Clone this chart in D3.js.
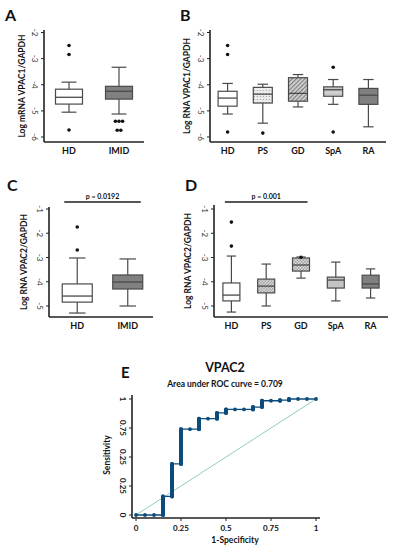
<!DOCTYPE html>
<html>
<head>
<meta charset="utf-8">
<script src="https://cdn.jsdelivr.net/npm/d3@7"></script>
<style>
  body { margin: 0; background: #fff; }
  svg text { font-family: Lato, "Open Sans", sans-serif; fill: #111; }
</style>
</head>
<body>
<div id="fig"></div>
<script>
// ---- data ----
var groups2 = ["HD", "IMID"];
var groups5 = ["HD", "PS", "GD", "SpA", "RA"];

// panel A: log mRNA VPAC1/GAPDH
var aLow = [-5.05, -5.12], aQ1 = [-4.74, -4.55], aMed = [-4.48, -4.25], aQ3 = [-4.17, -4.06], aHigh = [-3.90, -3.33];
var aOut = [[-2.50, -2.84, -5.73], [-5.40, -5.40, -5.40, -5.74, -5.74]];
// panel B: log RNA VPAC1/GAPDH
var bLow = [-5.12, -5.47, -4.85, -4.75, -5.61], bQ1 = [-4.82, -4.70, -4.63, -4.44, -4.75], bMed = [-4.51, -4.36, -4.33, -4.19, -4.40];
var bQ3 = [-4.25, -4.10, -3.73, -4.08, -4.14], bHigh = [-3.95, -3.98, -3.61, -3.80, -3.80];
var bOut = [[-2.50, -2.84, -5.81], [-5.85], [], [-3.33, -5.81], []];
// panel C: log RNA VPAC2/GAPDH
var cLow = [-5.29, -5.00], cQ1 = [-4.84, -4.30], cMed = [-4.59, -4.01], cQ3 = [-4.09, -3.72], cHigh = [-3.02, -3.06];
var cOut = [[-1.74, -2.69], []];
// panel D
var dLow = [-5.25, -5.00, -3.85, -4.79, -4.67], dQ1 = [-4.79, -4.46, -3.56, -4.26, -4.26], dMed = [-4.55, -4.18, -3.31, -3.93, -4.09];
var dQ3 = [-4.05, -3.89, -3.02, -3.81, -3.73], dHigh = [-2.94, -3.27, -2.98, -3.19, -3.47];
var dOut = [[-1.54, -2.53], [], [-2.99], [], []];
var ticks1 = [-2, -3, -4, -5, -6], ticks2 = [-1, -2, -3, -4, -5];

// panel E: ROC steps (fpr, tpr before step, tpr after step)
var rocFpr = [0, 0.05, 0.1, 0.15, 0.2, 0.25, 0.3, 0.35, 0.4, 0.45, 0.5, 0.55, 0.6, 0.65, 0.7, 0.75, 0.8, 0.85, 0.9, 0.95, 1];
var rocTprLow = [0, 0, 0, 0, 0.16, 0.44, 0.74, 0.74, 0.83, 0.83, 0.88, 0.91, 0.91, 0.91, 0.93, 0.985, 0.985, 0.99, 1, 1, 1];
var rocTprHigh = [0, 0, 0, 0.16, 0.44, 0.74, 0.74, 0.83, 0.83, 0.88, 0.91, 0.91, 0.91, 0.93, 0.985, 0.985, 0.99, 1, 1, 1, 1];
var rocXTicks = [0, 0.25, 0.5, 0.75, 1], rocXLabels = ["0", "0.25", "0.5", "0.75", "1"];
var rocYTicks = [0, 0.25, 0.5, 0.75, 1], rocYLabels = ["0", "0.25", "0.25", "0.75", "1"];

var width = 395, height = 550, ink = "#222", boxLine = "#4a4a4a";

var svg = d3.select("#fig").append("svg").attr("width", width).attr("height", height);
svg.append("rect").attr("width", width).attr("height", height).attr("fill", "#fff");

// fill patterns
var defs = svg.append("defs");
var p1 = defs.append("pattern").attr("id", "dots").attr("width", 3).attr("height", 3).attr("patternUnits", "userSpaceOnUse");
p1.append("rect").attr("width", 3).attr("height", 3).attr("fill", "#ececec");
p1.append("rect").attr("width", 1).attr("height", 1).attr("fill", "#9a9a9a");
var p2 = defs.append("pattern").attr("id", "hatch").attr("width", 3).attr("height", 3).attr("patternUnits", "userSpaceOnUse").attr("patternTransform", "rotate(45)");
p2.append("rect").attr("width", 3).attr("height", 3).attr("fill", "#d4d4d4");
p2.append("rect").attr("width", 1.2).attr("height", 3).attr("fill", "#7d7d7d");
var p3 = defs.append("pattern").attr("id", "check").attr("width", 3).attr("height", 3).attr("patternUnits", "userSpaceOnUse");
p3.append("rect").attr("width", 3).attr("height", 3).attr("fill", "#e2e2e2");
p3.append("rect").attr("width", 1.5).attr("height", 1.5).attr("fill", "#9c9c9c");
p3.append("rect").attr("x", 1.5).attr("y", 1.5).attr("width", 1.5).attr("height", 1.5).attr("fill", "#9c9c9c");
var p4 = defs.append("pattern").attr("id", "lines").attr("width", 4).attr("height", 3).attr("patternUnits", "userSpaceOnUse");
p4.append("rect").attr("width", 4).attr("height", 3).attr("fill", "#c9c9c9");
p4.append("rect").attr("y", 2).attr("width", 4).attr("height", 0.7).attr("fill", "#dedede");

var fillsA = ["#fff", "#808080"];
var fillsB = ["#fff", "url(#dots)", "url(#hatch)", "url(#lines)", "#808080"];
var fillsD = ["#fff", "url(#check)", "url(#check)", "#c4c4c4", "#808080"];

function boxPanel(p) {
  var g = svg.append("g");
  var x = d3.scalePoint().domain(p.groups).range(p.xRange).padding(0.5);
  var y = d3.scaleLinear().domain(p.yDomain).range(p.yRange);
  var rows = p.groups.map(function(name, i) {
    return {name: name, low: p.low[i], q1: p.q1[i], med: p.med[i], q3: p.q3[i], high: p.high[i], out: p.out[i], fill: p.fills[i]};
  });
  var bw = p.boxWidth, cap = bw * 0.55;

  var b = g.selectAll(".box").data(rows).enter().append("g").attr("class", "box")
    .attr("transform", function(d) { return "translate(" + x(d.name) + ",0)"; });
  b.append("line").attr("y1", function(d) { return y(d.high); }).attr("y2", function(d) { return y(d.low); })
    .attr("stroke", boxLine).attr("stroke-width", 1.2);
  b.append("line").attr("x1", -cap / 2).attr("x2", cap / 2).attr("y1", function(d) { return y(d.high); }).attr("y2", function(d) { return y(d.high); })
    .attr("stroke", boxLine).attr("stroke-width", 1.2);
  b.append("line").attr("x1", -cap / 2).attr("x2", cap / 2).attr("y1", function(d) { return y(d.low); }).attr("y2", function(d) { return y(d.low); })
    .attr("stroke", boxLine).attr("stroke-width", 1.2);
  b.append("rect").attr("x", -bw / 2).attr("width", bw)
    .attr("y", function(d) { return y(d.q3); }).attr("height", function(d) { return y(d.q1) - y(d.q3); })
    .attr("fill", function(d) { return d.fill; }).attr("stroke", boxLine).attr("stroke-width", 1.2);
  b.append("line").attr("x1", -bw / 2).attr("x2", bw / 2).attr("y1", function(d) { return y(d.med); }).attr("y2", function(d) { return y(d.med); })
    .attr("stroke", boxLine).attr("stroke-width", 1.3);
  // duplicate outlier values are spread sideways a little
  b.selectAll("circle").data(function(d) {
    return d.out.map(function(v, k) {
      var same = d.out.filter(function(w) { return w === v; }).length;
      var idx = d.out.slice(0, k).filter(function(w) { return w === v; }).length;
      return {v: v, dx: (idx - (same - 1) / 2) * 3.6};
    });
  }).enter().append("circle")
    .attr("cx", function(d) { return d.dx; }).attr("cy", function(d) { return y(d.v); }).attr("r", 1.8).attr("fill", "#111");

  // axes
  var ax = p.axisX;
  g.append("line").attr("x1", ax).attr("x2", ax).attr("y1", p.axisTop).attr("y2", p.axisBottom).attr("stroke", ink).attr("stroke-width", 1.6);
  g.append("line").attr("x1", ax).attr("x2", p.xRange[1]).attr("y1", p.axisBottom).attr("y2", p.axisBottom).attr("stroke", ink).attr("stroke-width", 1.6);
  g.selectAll(".tk").data(p.ticks).enter().append("line")
    .attr("x1", ax - 3).attr("x2", ax).attr("y1", function(d) { return y(d); }).attr("y2", function(d) { return y(d); })
    .attr("stroke", ink).attr("stroke-width", 1);
  g.selectAll(".tl").data(p.ticks).enter().append("text")
    .attr("transform", function(d) { return "translate(" + (ax - 9) + "," + y(d) + ") rotate(90)"; })
    .attr("text-anchor", "middle").attr("dy", "0.35em").attr("font-size", 8).style("fill", "#333")
    .text(function(d) { return "-" + Math.abs(d); });
  g.selectAll(".xl").data(p.groups).enter().append("text")
    .attr("x", function(d) { return x(d); }).attr("y", p.axisBottom + 12)
    .attr("text-anchor", "middle").attr("font-size", 9).attr("font-weight", "bold").text(function(d) { return d; });
  g.append("text").attr("transform", "translate(" + p.titleX + "," + ((p.axisTop + p.axisBottom) / 2) + ") rotate(-90)")
    .attr("text-anchor", "middle").attr("font-size", 8.5).attr("font-weight", "bold").text(p.title);
  g.append("text").attr("x", p.letterX).attr("y", p.letterY).attr("font-size", 16).attr("font-weight", "bold").text(p.letter);

  if (p.pText) {
    var px1 = x(p.pFrom) - bw / 2 + 2, px2 = x(p.pTo) + bw / 2 - 2;
    g.append("line").attr("x1", px1).attr("x2", px2).attr("y1", 202).attr("y2", 202).attr("stroke", "#555").attr("stroke-width", 1.8);
    g.append("text").attr("x", (px1 + px2) / 2).attr("y", 199).attr("text-anchor", "middle")
      .attr("font-size", 7).attr("font-weight", "bold").text(p.pText);
  }
}

boxPanel({letter: "A", letterX: 5, letterY: 21, title: "Log mRNA VPAC1/GAPDH", titleX: 25,
  groups: groups2, low: aLow, q1: aQ1, med: aMed, q3: aQ3, high: aHigh, out: aOut, fills: fillsA,
  xRange: [44, 144], axisX: 44, axisTop: 30, axisBottom: 142, yDomain: [-6, -2], yRange: [137, 32.5], ticks: ticks1, boxWidth: 27});
boxPanel({letter: "B", letterX: 180, letterY: 21, title: "Log RNA VPAC1/GAPDH", titleX: 190,
  groups: groups5, low: bLow, q1: bQ1, med: bMed, q3: bQ3, high: bHigh, out: bOut, fills: fillsB,
  xRange: [210, 386], axisX: 210, axisTop: 30, axisBottom: 142, yDomain: [-6, -2], yRange: [137, 32.5], ticks: ticks1, boxWidth: 19});
boxPanel({letter: "C", letterX: 7, letterY: 191, title: "Log RNA VPAC2/GAPDH", titleX: 27,
  groups: groups2, low: cLow, q1: cQ1, med: cMed, q3: cQ3, high: cHigh, out: cOut, fills: fillsA,
  xRange: [52, 153], axisX: 49, axisTop: 207, axisBottom: 317, yDomain: [-5, -1], yRange: [306, 209], ticks: ticks2, boxWidth: 30,
  pText: "p = 0.0192", pFrom: "HD", pTo: "IMID"});
boxPanel({letter: "D", letterX: 185, letterY: 191, title: "Log RNA VPAC2/GAPDH", titleX: 191,
  groups: groups5, low: dLow, q1: dQ1, med: dMed, q3: dQ3, high: dHigh, out: dOut, fills: fillsD,
  xRange: [214, 388], axisX: 214, axisTop: 205, axisBottom: 317, yDomain: [-5, -1], yRange: [306, 209], ticks: ticks2, boxWidth: 17,
  pText: "p = 0.001", pFrom: "HD", pTo: "GD"});

// ---- panel E: ROC ----
var e = svg.append("g");
var rx = d3.scaleLinear().domain([0, 1]).range([136, 316]);
var ry = d3.scaleLinear().domain([0, 1]).range([515, 399]);
var blue = "#0c4c7c";

e.append("line").attr("x1", rx(0)).attr("y1", ry(0)).attr("x2", rx(1)).attr("y2", ry(1))
  .attr("stroke", "#8fcdbd").attr("stroke-width", 1);

var pts = [];
rocFpr.forEach(function(f, i) {
  pts.push([f, rocTprLow[i]]);
  if (rocTprHigh[i] !== rocTprLow[i]) pts.push([f, rocTprHigh[i]]);
});
e.append("path").datum(pts)
  .attr("d", d3.line().x(function(d) { return rx(d[0]); }).y(function(d) { return ry(d[1]); }))
  .attr("fill", "none").attr("stroke", blue).attr("stroke-width", 1.3);
e.selectAll(".vs").data(rocFpr.filter(function(f, i) { return rocTprHigh[i] > rocTprLow[i]; })).enter().append("line")
  .attr("x1", function(d) { return rx(d); }).attr("x2", function(d) { return rx(d); })
  .attr("y1", function(d) { return ry(rocTprLow[rocFpr.indexOf(d)]); })
  .attr("y2", function(d) { return ry(rocTprHigh[rocFpr.indexOf(d)]); })
  .attr("stroke", blue).attr("stroke-width", 4).attr("stroke-linecap", "round");
e.selectAll(".pt").data(pts).enter().append("circle")
  .attr("cx", function(d) { return rx(d[0]); }).attr("cy", function(d) { return ry(d[1]); })
  .attr("r", 1.9).attr("fill", blue);

e.append("line").attr("x1", 132).attr("x2", 132).attr("y1", 395).attr("y2", 518).attr("stroke", ink).attr("stroke-width", 1.6);
e.append("line").attr("x1", 132).attr("x2", 320).attr("y1", 518).attr("y2", 518).attr("stroke", ink).attr("stroke-width", 1.6);
e.selectAll(".xt").data(rocXTicks).enter().append("line")
  .attr("x1", function(d) { return rx(d); }).attr("x2", function(d) { return rx(d); }).attr("y1", 518).attr("y2", 521)
  .attr("stroke", ink);
e.selectAll(".yt").data(rocYTicks).enter().append("line")
  .attr("y1", function(d) { return ry(d); }).attr("y2", function(d) { return ry(d); }).attr("x1", 129).attr("x2", 132)
  .attr("stroke", ink);
e.selectAll(".xtl").data(rocXTicks).enter().append("text")
  .attr("x", function(d) { return rx(d); }).attr("y", 531).attr("text-anchor", "middle").attr("font-size", 8).attr("font-weight", "bold")
  .text(function(d, i) { return rocXLabels[i]; });
e.selectAll(".ytl").data(rocYTicks).enter().append("text")
  .attr("transform", function(d) { return "translate(123," + ry(d) + ") rotate(90)"; })
  .attr("text-anchor", "middle").attr("dy", "0.35em").attr("font-size", 8).attr("font-weight", "bold")
  .text(function(d, i) { return rocYLabels[i]; });
e.append("text").attr("transform", "translate(110,455) rotate(-90)").attr("text-anchor", "middle")
  .attr("font-size", 8.5).attr("font-weight", "bold").text("Sensitivity");
e.append("text").attr("x", 235).attr("y", 543).attr("text-anchor", "middle")
  .attr("font-size", 8.5).attr("font-weight", "bold").text("1-Specificity");
e.append("text").attr("x", 225).attr("y", 372).attr("text-anchor", "middle")
  .attr("font-size", 12.5).attr("font-weight", "bold").text("VPAC2");
e.append("text").attr("x", 225).attr("y", 387).attr("text-anchor", "middle")
  .attr("font-size", 8.5).attr("font-weight", "bold").text("Area under ROC curve = 0.709");
e.append("text").attr("x", 121).attr("y", 378).attr("font-size", 15).attr("font-weight", "bold").text("E");
</script>
</body>
</html>
